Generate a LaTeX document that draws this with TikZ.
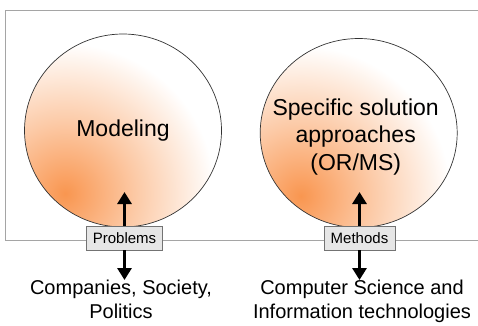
\documentclass[tikz,border=0pt]{standalone}
\usepackage{fontspec}
\setmainfont{Liberation Sans}
\usetikzlibrary{arrows.meta, shapes.geometric}
\definecolor{glowc}{RGB}{249,150,80}
\definecolor{framegray}{RGB}{165,165,165}
\definecolor{boxfill}{RGB}{230,230,230}
\pgfdeclareradialshading{glow}{\pgfpointorigin}{color(0bp)=(glowc); color(6bp)=(glowc!50!white); color(12.5bp)=(white); color(50bp)=(white)}

\begin{document}
\begin{tikzpicture}[x=1pt, y=-1pt,
    bubble/.style={ellipse, draw=black!80, line width=0.7pt, inner sep=0pt,
        path picture={\shade[shading=glow] ([xshift=-58pt,yshift=-63pt]path picture bounding box.center) circle (300pt);}},
    bubtext/.style={align=center, inner sep=0pt, font=\fontsize{23}{27.5}\selectfont},
    tag/.style={draw=black!55, fill=boxfill, inner xsep=6.5pt, inner ysep=0pt, minimum height=24pt, font=\fontsize{15}{18}\selectfont},
    outlabel/.style={align=center, inner sep=0pt, anchor=north, font=\fontsize{20}{23.5}\selectfont},
    bigarrow/.style={line width=3pt, -{Triangle[width=14pt,length=12pt]}}]
    \useasboundingbox (0,0) rectangle (478,325);
    % frame
    \draw[framegray, line width=0.8pt] (478,10) -- (5,10) -- (5,240) -- (478,240);
    % modeling
    \node[bubble, minimum width=197pt, minimum height=193pt, label={[bubtext]center:Modeling}] (modeling) at (123,130.5) {};
    \coordinate (probtip) at (124.5,192);
    \node[tag] (problems) at (124.5,238) {Problems};
    \node[outlabel] (society) at (121,280) {Companies, Society,\\Politics};
    \draw[bigarrow] (problems.north) -- (probtip);
    \draw[bigarrow] (problems.south) -- (problems.south |- society.north);
    % solution approaches
    \node[bubble, minimum width=197pt, minimum height=189pt, label={[bubtext, xshift=-3pt, yshift=-4pt]center:{Specific solution\\approaches\\(OR/MS)}}] (approaches) at (358.7,133) {};
    \coordinate (methtip) at (359.5,192);
    \node[tag] (methods) at (359.5,238) {Methods};
    \node[outlabel] (informatics) at (362,280) {Computer Science and\\Information technologies};
    \draw[bigarrow] (methods.north) -- (methtip);
    \draw[bigarrow] (methods.south) -- (methods.south |- informatics.north);
\end{tikzpicture}
\end{document}
